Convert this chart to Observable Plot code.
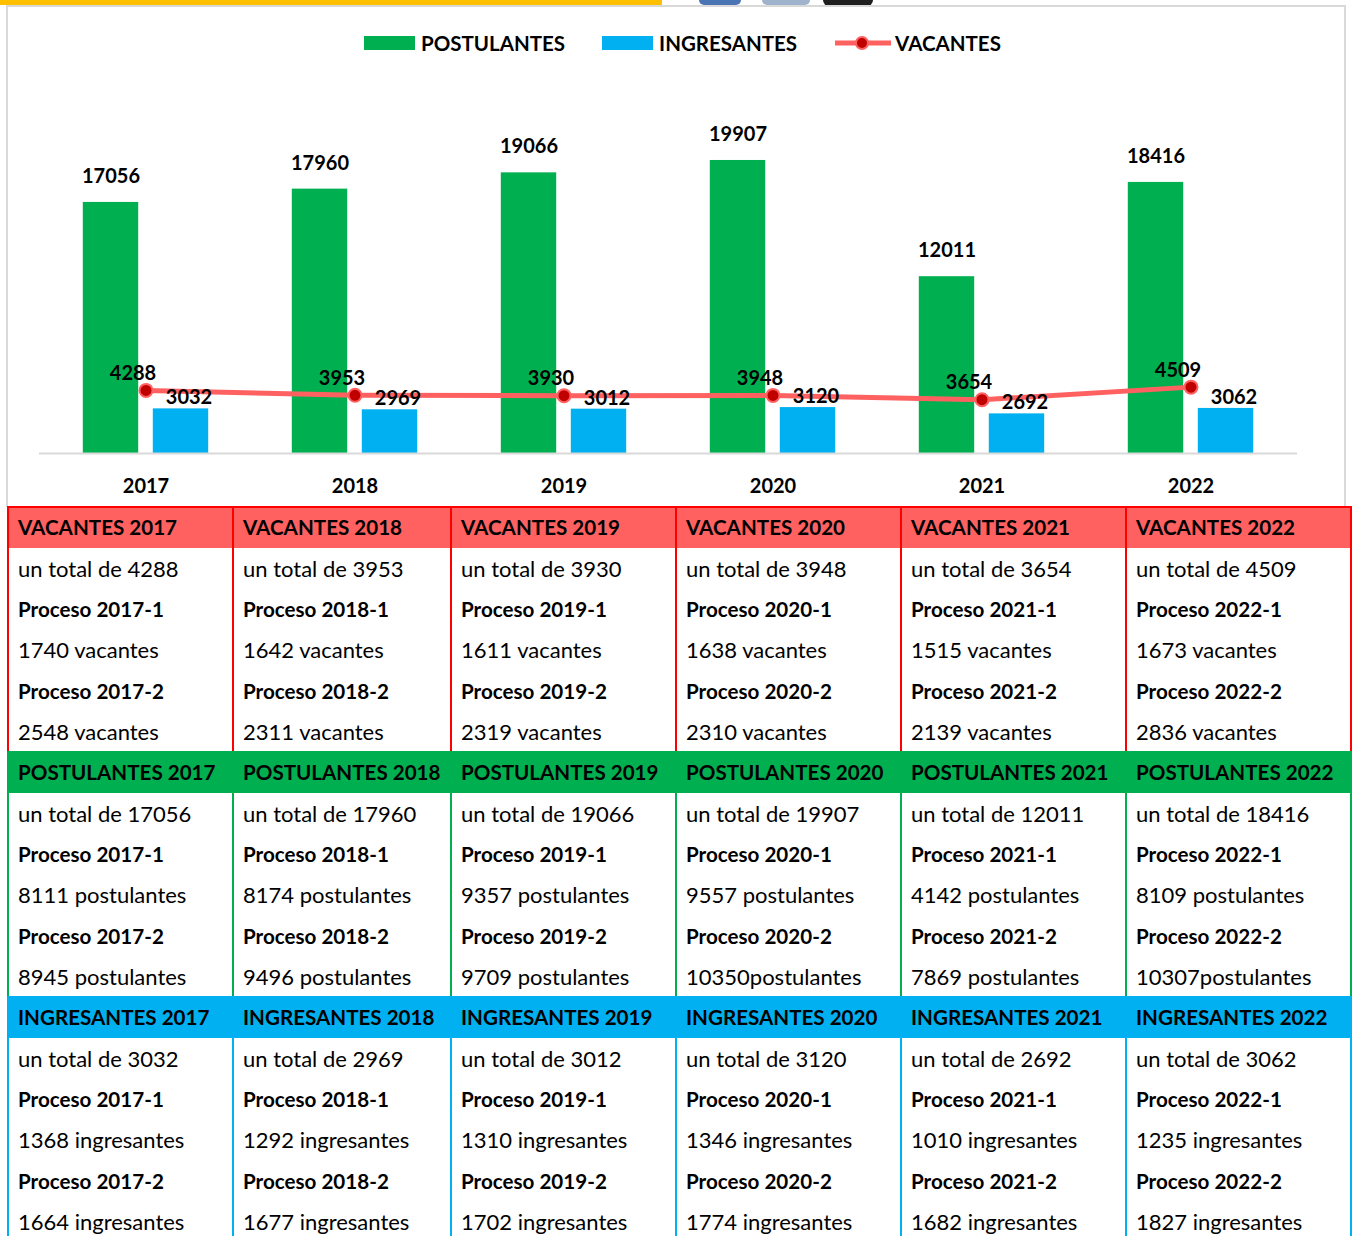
<!DOCTYPE html>
<html><head><meta charset="utf-8">
<script src="https://cdn.jsdelivr.net/npm/d3@7"></script>
<script src="https://cdn.jsdelivr.net/npm/@observablehq/plot@0.6"></script>
<style>
html,body{margin:0;padding:0;background:#fff;}
body{width:1354px;height:1236px;overflow:hidden;position:relative;font-family:Lato,"Open Sans",sans-serif;color:#000;}
.abs{position:absolute;}
.cell{position:absolute;box-sizing:border-box;display:flex;align-items:center;padding-left:10px;font-size:22px;white-space:nowrap;}
.b{font-weight:bold;font-size:20.6px;}
</style></head><body>
<script>
// ---- data ----
const years = ["2017","2018","2019","2020","2021","2022"];
const postulantes = [17056, 17960, 19066, 19907, 12011, 18416];
const ingresantes = [3032, 2969, 3012, 3120, 2692, 3062];
const vacantes = [4288, 3953, 3930, 3948, 3654, 4509];
const vacProceso1 = [1740, 1642, 1611, 1638, 1515, 1673];
const vacProceso2 = [2548, 2311, 2319, 2310, 2139, 2836];
const postProceso1 = [8111, 8174, 9357, 9557, 4142, 8109];
const postProceso2 = [8945, 9496, 9709, 10350, 7869, 10307];
const ingProceso1 = [1368, 1292, 1310, 1346, 1010, 1235];
const ingProceso2 = [1664, 1677, 1702, 1774, 1682, 1827];
const seriesNames = ["POSTULANTES", "INGRESANTES", "VACANTES"];
const seriesColors = ["#00B050", "#00B0F0", "#FF6161"];

const rows = years.map((y, i) => ({year: y, post: postulantes[i], ing: ingresantes[i], vac: vacantes[i]}));

function div(cls, style, html) {
  const d = document.createElement("div");
  d.className = cls;
  Object.assign(d.style, style || {});
  if (html != null) d.innerHTML = html;
  document.body.appendChild(d);
  return d;
}

// decorative header strip
div("abs", {left:"0px", top:"0px", width:"662px", height:"5px", background:"#FFC000"});
div("abs", {left:"699px", top:"0px", width:"42px", height:"5px", background:"#4a74b4", borderRadius:"0 0 14px 14px"});
div("abs", {left:"762px", top:"0px", width:"48px", height:"5px", background:"#9fb3cc", borderRadius:"0 0 10px 10px"});
div("abs", {left:"823px", top:"0px", width:"50px", height:"6px", background:"#1f1f1f", borderRadius:"0 0 12px 12px"});
div("abs", {left:"6px", top:"5px", width:"1336px", height:"500px", border:"2px solid #d9d9d9", borderBottom:"none"});

// ---- chart ----
const chart = Plot.plot({
  width: 1354, height: 505,
  marginLeft: 39, marginRight: 57, marginTop: 85, marginBottom: 52,
  x: {domain: years, padding: 0, label: null, tickSize: 0, tickPadding: 25},
  y: {domain: [0, 25000], axis: null},
  style: {fontFamily: "Lato, sans-serif", fontSize: "20px", fontWeight: "bold", color: "#000", background: "transparent", overflow: "visible"},
  marks: [
    Plot.barY(rows, {x: "year", y: "post", fill: seriesColors[0], insetLeft: 41.8, insetRight: 111.8}),
    Plot.barY(rows, {x: "year", y: "ing", fill: seriesColors[1], insetLeft: 111.8, insetRight: 41.8}),
    Plot.ruleY([0], {stroke: "#d9d9d9", strokeWidth: 2}),
    Plot.line(rows, {x: "year", y: "vac", stroke: seriesColors[2], strokeWidth: 5}),
    Plot.dot(rows, {x: "year", y: "vac", r: 6.5, fill: "#C00000", stroke: seriesColors[2], strokeWidth: 2}),
    Plot.text(rows, {x: "year", y: "post", text: d => String(d.post), dx: -35, dy: -26, fontSize: 20, fontWeight: "bold", fill: "#000"}),
    Plot.text(rows, {x: "year", y: "ing", text: d => String(d.ing), dx: 43, dy: -11, fontSize: 20, fontWeight: "bold", fill: "#000"}),
    Plot.text(rows, {x: "year", y: "vac", text: d => String(d.vac), dx: -13, dy: -17, fontSize: 20, fontWeight: "bold", fill: "#000"})
  ]
});
chart.style.position = "absolute";
chart.style.left = "0px";
chart.style.top = "0px";
document.body.appendChild(chart);

// ---- legend ----
const leg = div("abs", {top: "30px", left: "364px", display: "flex", alignItems: "center", height: "26px", fontWeight: "bold", fontSize: "20.5px"});
seriesNames.forEach((name, i) => {
  const it = document.createElement("div");
  it.style.cssText = "display:flex;align-items:center;margin-right:" + (i < 2 ? 37 : 0) + "px";
  if (i < 2) {
    it.innerHTML = `<span style="display:inline-block;width:51px;height:14px;background:${seriesColors[i]};margin-right:6px"></span><span>${name}</span>`;
  } else {
    it.innerHTML = `<svg width="58" height="20" style="margin-right:3px"><line x1="1" x2="57" y1="10" y2="10" stroke="${seriesColors[i]}" stroke-width="5"/><circle cx="28" cy="10" r="6" fill="#C00000" stroke="${seriesColors[i]}" stroke-width="2"/></svg><span>${name}</span>`;
  }
  leg.appendChild(it);
});

// ---- table ----
const edges = [8, 233, 451, 676, 901, 1126, 1351];
const rowH = 40.8;
const sections = [
  {title: "VACANTES", color: "#FF0000", fill: "#FF6161", top: 507, total: vacantes, p1: vacProceso1, p2: vacProceso2, word: "vacantes"},
  {title: "POSTULANTES", color: "#00B050", fill: "#00B050", top: 752, total: postulantes, p1: postProceso1, p2: postProceso2, word: "postulantes"},
  {title: "INGRESANTES", color: "#00B0F0", fill: "#00B0F0", top: 997, total: ingresantes, p1: ingProceso1, p2: ingProceso2, word: "ingresantes"}
];
sections.forEach(s => {
  const h = rowH * 6;
  div("abs", {left: edges[0] + "px", top: s.top + "px", width: (edges[6] - edges[0]) + "px", height: rowH + "px", background: s.fill});
  div("abs", {left: (edges[0] - 1) + "px", top: (s.top - 1) + "px", width: (edges[6] - edges[0] + 2) + "px", height: (h + 2) + "px", boxSizing: "border-box", border: "2px solid " + s.color});
  edges.slice(1, 6).forEach(x => div("abs", {left: (x - 1) + "px", top: s.top + "px", width: "2px", height: h + "px", background: s.color}));
  years.forEach((y, i) => {
    const left = edges[i], w = edges[i + 1] - edges[i];
    const lines = [
      {t: `${s.title} ${y}`, b: true},
      {t: `un total de ${s.total[i]}`},
      {t: `Proceso ${y}-1`, b: true},
      {t: `${s.p1[i]} ${s.word}`},
      {t: `Proceso ${y}-2`, b: true},
      {t: `${s.p2[i]}${s.p2[i] >= 10000 ? "" : " "}${s.word}`}
    ];
    lines.forEach((ln, r) => {
      div("cell" + (ln.b ? " b" : ""), {left: left + "px", top: (s.top + r * rowH) + "px", width: w + "px", height: rowH + "px"}, ln.t);
    });
  });
});
</script>
</body></html>
